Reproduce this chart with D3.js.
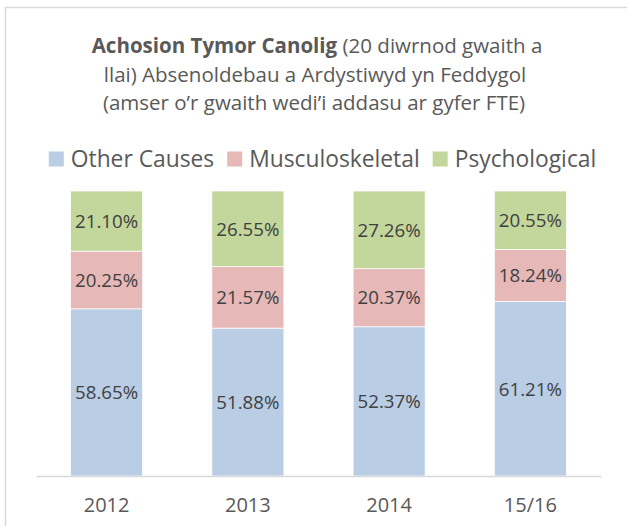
<!DOCTYPE html>
<html>
<head>
<meta charset="utf-8">
<script src="https://cdn.jsdelivr.net/npm/d3@7/dist/d3.min.js"></script>
<style>
    body { margin: 0; background: #fff; }
    text { font-family: "Open Sans", "Noto Sans", sans-serif; }
</style>
</head>
<body>
<div id="chart"></div>
<script>
"use strict";

var years = ["2012", "2013", "2014", "15/16"];
var seriesNames = ["Other Causes", "Musculoskeletal", "Psychological"];
var otherCauses = [58.65, 51.88, 52.37, 61.21];
var musculoskeletal = [20.25, 21.57, 20.37, 18.24];
var psychological = [21.10, 26.55, 27.26, 20.55];
var colors = ["#B9CDE5", "#E6B9B8", "#C3D69B"];

var width = 627, height = 526;

var svg = d3.select("#chart")
    .append("svg")
    .attr("width", width)
    .attr("height", height);

// chart frame (right / bottom edges fall outside the picture)
svg.append("rect")
    .attr("x", 5.5).attr("y", 7.5)
    .attr("width", 700).attr("height", 600)
    .attr("fill", "none")
    .attr("stroke", "#d9d9d9")
    .attr("stroke-width", 1.5);

// title
var title = svg.append("text")
    .attr("text-anchor", "middle")
    .attr("fill", "#595959")
    .style("font-size", "20.5px");
var l1 = title.append("tspan").attr("x", 317).attr("y", 53);
l1.append("tspan").attr("font-weight", "bold").text("Achosion Tymor Canolig");
l1.append("tspan").text(" (20 diwrnod gwaith a");
title.append("tspan").attr("x", 315).attr("y", 82).text("llai) Absenoldebau a Ardystiwyd yn Feddygol");
title.append("tspan").attr("x", 314).attr("y", 110).text("(amser o\u2019r gwaith wedi\u2019i addasu ar gyfer FTE)");

var data = years.map(function (y, i) {
    return { year: y, "Other Causes": otherCauses[i], "Musculoskeletal": musculoskeletal[i], "Psychological": psychological[i] };
});

var stack = d3.stack().keys(seriesNames);
var layers = stack(data);

var x = d3.scaleBand()
    .domain(years)
    .range([36, 601])
    .paddingInner(0.49)
    .paddingOuter(0.245);

var y = d3.scaleLinear()
    .domain([0, 100])
    .range([476, 191]);

var color = d3.scaleOrdinal().domain(seriesNames).range(colors);

var layer = svg.append("g")
    .selectAll("g")
    .data(layers)
    .enter().append("g")
    .attr("fill", function (d) { return color(d.key); });

layer.selectAll("rect")
    .data(function (d) { return d; })
    .enter().append("rect")
    .attr("x", function (d) { return x(d.data.year); })
    .attr("y", function (d) { return y(d[1]); })
    .attr("width", x.bandwidth())
    .attr("height", function (d) { return y(d[0]) - y(d[1]); })
    .attr("stroke", "#fff")
    .attr("stroke-width", 0.75);

layer.selectAll("text")
    .data(function (d) { return d; })
    .enter().append("text")
    .attr("x", function (d) { return x(d.data.year) + x.bandwidth() / 2; })
    .attr("y", function (d) { return (y(d[0]) + y(d[1])) / 2; })
    .attr("dy", "0.36em")
    .attr("text-anchor", "middle")
    .attr("fill", "#404040")
    .style("font-size", "18.7px")
    .text(function (d) { return (d[1] - d[0]).toFixed(2) + "%"; });

// x axis
var axis = svg.append("g")
    .attr("transform", "translate(0," + y(0) + ")")
    .call(d3.axisBottom(x).tickSize(0).tickPadding(22));
axis.select(".domain").attr("stroke", "#d9d9d9").attr("stroke-width", 1.5);
axis.selectAll("text")
    .attr("fill", "#595959")
    .style("font-size", "20px")
    .style("font-family", "\"Open Sans\", sans-serif");

// legend
var legend = svg.append("g");
var items = legend.selectAll("g")
    .data(seriesNames)
    .enter().append("g");
items.append("rect")
    .attr("width", 15).attr("height", 15)
    .attr("y", -7.5)
    .attr("fill", function (d) { return color(d); });
items.append("text")
    .attr("x", 22)
    .attr("dy", "0.36em")
    .attr("fill", "#595959")
    .style("font-size", "22.8px")
    .text(function (d) { return d; });

var offs = 0, pos = [];
items.each(function () {
    pos.push(offs);
    offs += this.getBBox().width + 13;
});
offs -= 13;
var lx = 322.5 - offs / 2;
items.attr("transform", function (d, i) { return "translate(" + (lx + pos[i]) + ",159)"; });
</script>
</body>
</html>
